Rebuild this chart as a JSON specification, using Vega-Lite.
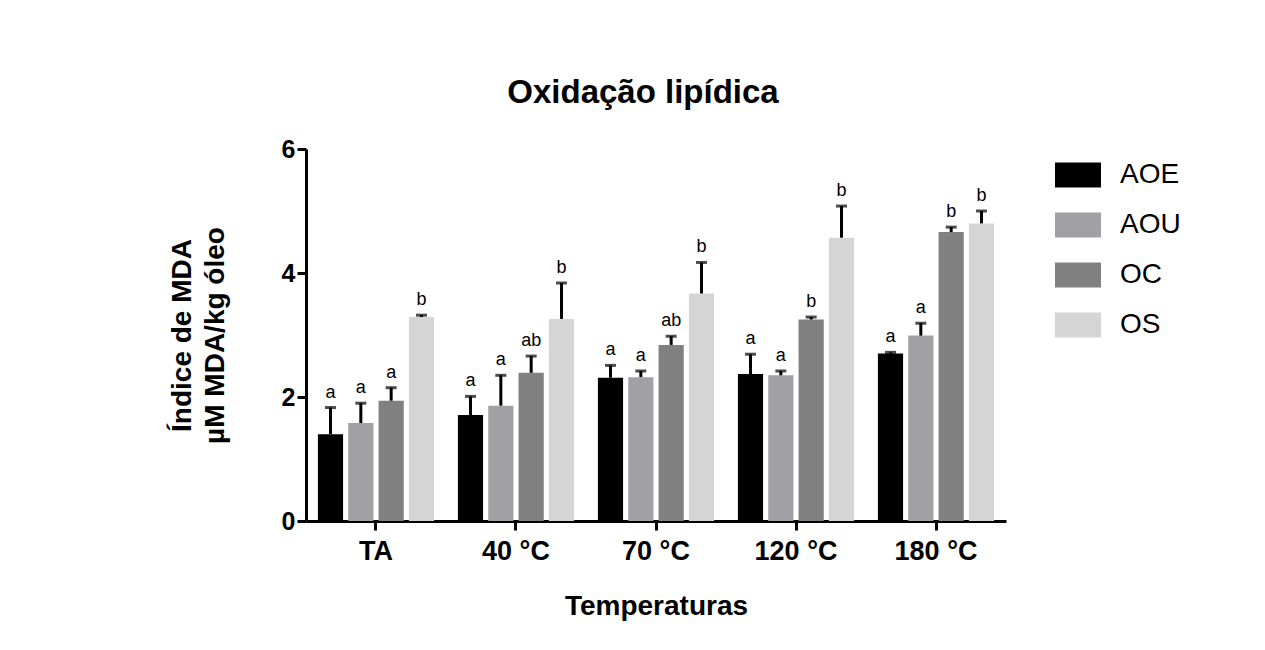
{
  "$schema": "https://vega.github.io/schema/vega-lite/v6.json",
  "autosize": {"type": "none"},
  "padding": {"left": 306, "top": 149, "right": 259, "bottom": 129},
  "width": 700,
  "height": 372,
  "background": "white",
  "config": {
    "view": {"stroke": null},
    "font": "Liberation Sans",
    "title": {"font": "Liberation Sans", "fontSize": 33, "fontWeight": "bold", "color": "black", "dx": -13, "offset": 27},
    "legend": {"padding": 3}
  },
  "title": {"text": "Oxidação lipídica"},
  "data": {
    "values": [
      {"temp": "TA", "oil": "AOE", "value": 1.40, "hi": 1.83, "letter": "a"},
      {"temp": "TA", "oil": "AOU", "value": 1.58, "hi": 1.90, "letter": "a"},
      {"temp": "TA", "oil": "OC", "value": 1.94, "hi": 2.15, "letter": "a"},
      {"temp": "TA", "oil": "OS", "value": 3.29, "hi": 3.32, "letter": "b"},
      {"temp": "40 °C", "oil": "AOE", "value": 1.71, "hi": 2.01, "letter": "a"},
      {"temp": "40 °C", "oil": "AOU", "value": 1.86, "hi": 2.35, "letter": "a"},
      {"temp": "40 °C", "oil": "OC", "value": 2.39, "hi": 2.66, "letter": "ab"},
      {"temp": "40 °C", "oil": "OS", "value": 3.26, "hi": 3.84, "letter": "b"},
      {"temp": "70 °C", "oil": "AOE", "value": 2.31, "hi": 2.51, "letter": "a"},
      {"temp": "70 °C", "oil": "AOU", "value": 2.32, "hi": 2.42, "letter": "a"},
      {"temp": "70 °C", "oil": "OC", "value": 2.84, "hi": 2.98, "letter": "ab"},
      {"temp": "70 °C", "oil": "OS", "value": 3.67, "hi": 4.17, "letter": "b"},
      {"temp": "120 °C", "oil": "AOE", "value": 2.37, "hi": 2.69, "letter": "a"},
      {"temp": "120 °C", "oil": "AOU", "value": 2.35, "hi": 2.42, "letter": "a"},
      {"temp": "120 °C", "oil": "OC", "value": 3.25, "hi": 3.29, "letter": "b"},
      {"temp": "120 °C", "oil": "OS", "value": 4.57, "hi": 5.08, "letter": "b"},
      {"temp": "180 °C", "oil": "AOE", "value": 2.70, "hi": 2.72, "letter": "a"},
      {"temp": "180 °C", "oil": "AOU", "value": 2.99, "hi": 3.19, "letter": "a"},
      {"temp": "180 °C", "oil": "OC", "value": 4.66, "hi": 4.74, "letter": "b"},
      {"temp": "180 °C", "oil": "OS", "value": 4.80, "hi": 5.00, "letter": "b"}
    ]
  },
  "encoding": {
    "x": {
      "field": "temp", "type": "nominal",
      "sort": ["TA", "40 °C", "70 °C", "120 °C", "180 °C"],
      "scale": {"paddingInner": 0.17, "paddingOuter": 0.085},
      "axis": {
        "title": "Temperaturas", "titleFont": "Liberation Sans", "titleFontSize": 28, "titleFontWeight": "bold", "titleColor": "black", "titlePadding": 28,
        "labelFont": "Liberation Sans", "labelFontSize": 27, "labelFontWeight": "bold", "labelColor": "black", "labelAngle": 0, "labelPadding": 8,
        "domainColor": "black", "domainWidth": 3, "tickColor": "black", "tickWidth": 3, "tickSize": 9
      }
    },
    "xOffset": {
      "field": "oil", "type": "nominal",
      "sort": ["AOE", "AOU", "OC", "OS"],
      "scale": {"paddingInner": 0.17, "paddingOuter": 0}
    },
    "y": {
      "field": "value", "type": "quantitative",
      "scale": {"domain": [0, 6], "nice": false},
      "axis": {
        "title": ["Índice de MDA", "µM MDA/kg óleo"], "titleFont": "Liberation Sans", "titleFontSize": 28, "titleFontWeight": "bold", "titleColor": "black", "titlePadding": 52, "titleLineHeight": 33,
        "values": [0, 2, 4, 6], "grid": false,
        "labelFont": "Liberation Sans", "labelFontSize": 25, "labelFontWeight": "bold", "labelColor": "black", "labelPadding": 2,
        "domainColor": "black", "domainWidth": 3, "tickColor": "black", "tickWidth": 3, "tickSize": 9
      }
    }
  },
  "layer": [
    {
      "mark": {"type": "bar"},
      "encoding": {
        "color": {
          "field": "oil", "type": "nominal",
          "sort": ["AOE", "AOU", "OC", "OS"],
          "scale": {"domain": ["AOE", "AOU", "OC", "OS"], "range": ["#000000", "#a1a1a5", "#808080", "#d5d5d5"]},
          "legend": {
            "title": null, "orient": "right", "offset": 46,
            "symbolType": "M-1,-0.543H1V0.543H-1Z", "symbolSize": 2116, "symbolStrokeWidth": 0, "symbolOpacity": 1,
            "labelFont": "Liberation Sans", "labelFontSize": 28, "labelColor": "black", "labelOffset": 19, "rowPadding": 13
          }
        }
      }
    },
    {
      "mark": {"type": "rule", "color": "black", "strokeWidth": 3},
      "encoding": {"y2": {"field": "hi"}}
    },
    {
      "mark": {"type": "tick", "color": "black", "thickness": 3, "size": 11},
      "encoding": {"y": {"field": "hi", "type": "quantitative"}}
    },
    {
      "mark": {"type": "text", "font": "Liberation Sans", "fontSize": 18, "color": "black", "baseline": "alphabetic", "dy": -10},
      "encoding": {"y": {"field": "hi", "type": "quantitative"}, "text": {"field": "letter"}}
    }
  ]
}
